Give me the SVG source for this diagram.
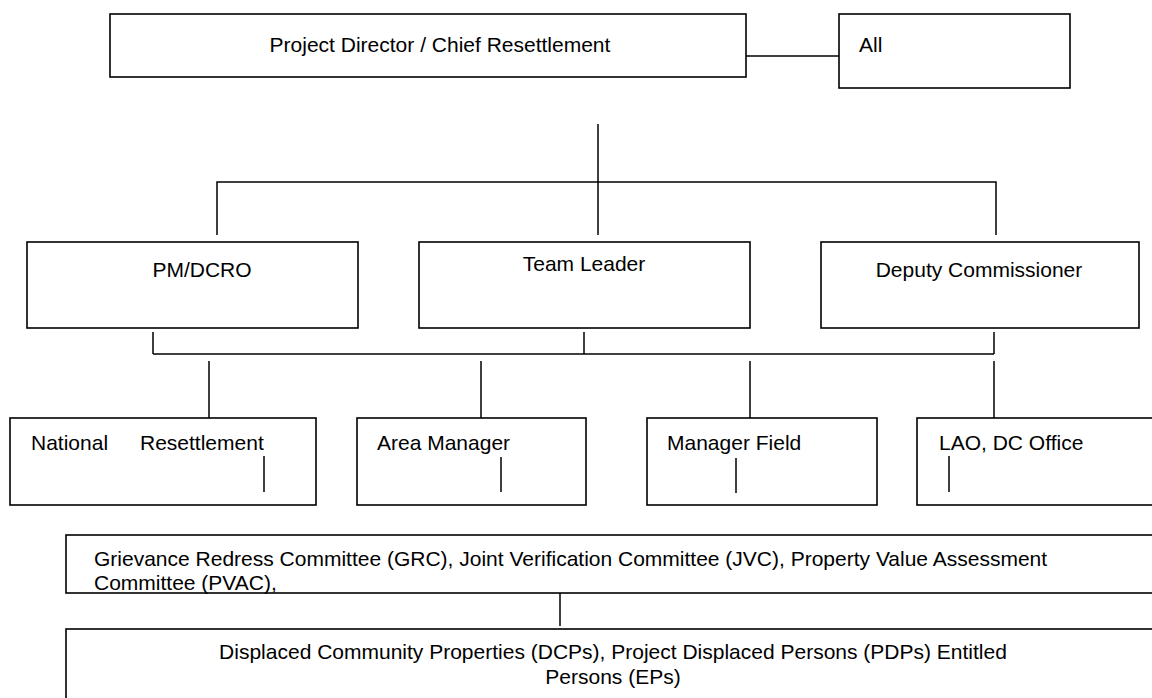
<svg xmlns="http://www.w3.org/2000/svg" width="1152" height="698" viewBox="0 0 1152 698">
  <style>
    .box { fill: #ffffff; stroke: #000000; stroke-width: 1.6; }
    .lbl { font-family: "Liberation Sans", Arial, sans-serif; font-size: 21px; fill: #000000; }
    .mid { text-anchor: middle; }
    .wire { stroke: #000000; stroke-width: 1.5; fill: none; }
  </style>
  <rect width="1152" height="698" fill="#ffffff"/>

  <!-- connectors -->
  <g id="connectors">
    <line class="wire" x1="746" y1="56" x2="842" y2="56"/>
    <!-- upper tree -->
    <line class="wire" x1="598" y1="124" x2="598" y2="235"/>
    <polyline class="wire" points="217,235 217,182 996,182 996,235"/>
    <!-- middle bar -->
    <line class="wire" x1="153" y1="332" x2="153" y2="354"/>
    <line class="wire" x1="584" y1="332" x2="584" y2="354"/>
    <line class="wire" x1="994" y1="332" x2="994" y2="354"/>
    <line class="wire" x1="153" y1="354" x2="994" y2="354"/>
    <!-- drops to lower row -->
    <line class="wire" x1="209" y1="361" x2="209" y2="418"/>
    <line class="wire" x1="481" y1="361" x2="481" y2="418"/>
    <line class="wire" x1="750" y1="361" x2="750" y2="418"/>
    <line class="wire" x1="994" y1="361" x2="994" y2="418"/>
    <!-- committee link -->
    <line class="wire" x1="560" y1="591" x2="560" y2="626"/>
  </g>

  <g id="project-director">
    <rect class="box" x="110" y="14" width="636" height="63"/>
    <text class="lbl mid" x="440" y="52">Project Director / Chief Resettlement</text>
  </g>

  <g id="all">
    <rect class="box" x="839" y="14" width="231" height="74"/>
    <text class="lbl" x="859" y="52">All</text>
  </g>

  <g id="pm-dcro">
    <rect class="box" x="27" y="242" width="331" height="86"/>
    <text class="lbl mid" x="202" y="277">PM/DCRO</text>
  </g>

  <g id="team-leader">
    <rect class="box" x="419" y="242" width="331" height="86"/>
    <text class="lbl mid" x="584" y="271">Team Leader</text>
  </g>

  <g id="deputy-commissioner">
    <rect class="box" x="821" y="242" width="318" height="86"/>
    <text class="lbl mid" x="979" y="277">Deputy Commissioner</text>
  </g>

  <g id="national-resettlement">
    <rect class="box" x="10" y="418" width="306" height="87"/>
    <text class="lbl" x="31" y="450">National</text>
    <text class="lbl" x="140" y="450">Resettlement</text>
    <line class="wire" x1="264" y1="456" x2="264" y2="492"/>
  </g>

  <g id="area-manager">
    <rect class="box" x="357" y="418" width="229" height="87"/>
    <text class="lbl" x="377" y="450">Area Manager</text>
    <line class="wire" x1="501" y1="457" x2="501" y2="492"/>
  </g>

  <g id="manager-field">
    <rect class="box" x="647" y="418" width="230" height="87"/>
    <text class="lbl" x="667" y="450">Manager Field</text>
    <line class="wire" x1="736" y1="458" x2="736" y2="493"/>
  </g>

  <g id="lao-dc-office">
    <rect class="box" x="917" y="418" width="244" height="87"/>
    <text class="lbl" x="939" y="450">LAO, DC Office</text>
    <line class="wire" x1="949" y1="456" x2="949" y2="492"/>
  </g>

  <g id="committees">
    <rect class="box" x="66" y="535" width="1100" height="58"/>
    <text class="lbl" x="94" y="566">Grievance Redress Committee (GRC), Joint Verification Committee (JVC), Property Value Assessment</text>
    <text class="lbl" x="94" y="590">Committee (PVAC),</text>
  </g>

  <g id="displaced-persons">
    <rect class="box" x="66" y="629" width="1100" height="80"/>
    <text class="lbl mid" x="613" y="659">Displaced Community Properties (DCPs), Project Displaced Persons (PDPs) Entitled</text>
    <text class="lbl mid" x="613" y="684">Persons (EPs)</text>
  </g>
</svg>
